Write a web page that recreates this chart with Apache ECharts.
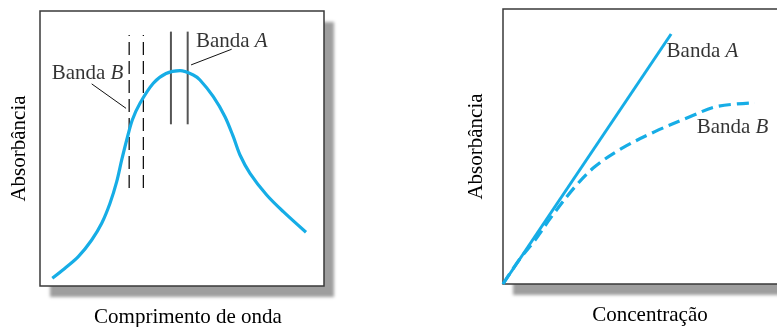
<!DOCTYPE html>
<html>
<head>
<meta charset="utf-8">
<script src="https://cdn.jsdelivr.net/npm/echarts@6/dist/echarts.min.js"></script>
<style>
html,body{margin:0;padding:0;background:#fff;}
#chart{width:777px;height:327px;}
</style>
</head>
<body>
<div id="chart"></div>
<script>
// ---- Data (arbitrary units, 0..100) ----
const axisNames = ['Comprimento de onda', 'Concentração', 'Absorbância'];
const bandNames = ['A', 'B'];

// Absorption spectrum (left panel)
const spectrumWavelength = [4.33, 8.80, 13.49, 18.20, 21.73, 24.65, 27.01, 28.77, 30.53, 32.50, 35.21, 39.89, 44.37, 49.30, 53.98, 56.34, 61.02, 65.14, 68.06, 70.42, 73.94, 79.82, 85.67, 93.66];
const spectrumAbsorbance = [2.80, 6.44, 10.65, 16.73, 22.80, 30.07, 37.93, 45.82, 53.09, 60.36, 66.44, 73.71, 77.27, 78.29, 76.73, 74.91, 68.84, 61.56, 54.29, 47.64, 40.98, 33.09, 27.02, 19.53];

// Wavelength bands (edges) and their marker extents
const bandAEdges = [46.1, 52.0];
const bandAExtent = [58.8, 92.5];
const bandBEdges = [31.4, 36.4];
const bandBExtent = [35.6, 91.3];

// Calibration curves (right panel)
const bandAConc = [0, 59.2];
const bandAAbs = [0, 90.9];
const bandBConc = [0, 6.0, 11.3, 17.1, 25.4, 32.4, 41.8, 53.5, 65.8, 75.2, 88.7];
const bandBAbs = [0, 9.2, 16.0, 24.5, 35.4, 42.7, 49.3, 55.4, 60.8, 64.5, 65.9];

// ---- Chart ----
const FONT = 'Liberation Serif';
const BLUE = '#16ade6';
const TEXT = '#000';
const zip = (a, b) => a.map((v, i) => [v, b[i]]);

const panels = [
  {left: 40, top: 11, width: 284, height: 275},
  {left: 503, top: 9, width: 284, height: 275}
];
const grids = [];
panels.forEach(p => {
  grids.push(Object.assign({
    show: true, backgroundColor: '#fff', borderWidth: 0, outerBoundsMode: 'none', containLabel: false,
    shadowColor: 'rgba(0,0,0,0.38)', shadowBlur: 3, shadowOffsetX: 10, shadowOffsetY: 11
  }, p));
});
panels.forEach(p => {
  grids.push(Object.assign({
    show: true, backgroundColor: 'transparent', borderColor: '#3a3a3a', borderWidth: 1.5,
    outerBoundsMode: 'none', containLabel: false
  }, p));
});

const hiddenAxis = (gi, name, extra) => Object.assign({
  gridIndex: gi, type: 'value', min: 0, max: 100,
  axisLine: {show: false}, axisTick: {show: false}, axisLabel: {show: false}, splitLine: {show: false},
  name: name, nameLocation: 'middle',
  nameTextStyle: {fontFamily: FONT, fontSize: 21, color: TEXT}
}, extra || {});

const labelRich = {
  n: {fontFamily: FONT, fontSize: 21, color: TEXT},
  i: {fontFamily: FONT, fontSize: 21, color: TEXT, fontStyle: 'italic'}
};
const bandLabel = (ai, x, y, name) => ({
  type: 'scatter', xAxisIndex: ai, yAxisIndex: ai, symbolSize: 0, silent: true,
  data: [[x, y]],
  label: {show: true, position: 'right', distance: 0, color: TEXT, formatter: '{n|Banda }{i|' + name + '}', rich: labelRich}
});
const seg = (ai, pts, style) => ({
  type: 'line', xAxisIndex: ai, yAxisIndex: ai, data: pts, symbol: 'none', silent: true,
  lineStyle: style, z: 3
});

const L = 2, R = 3;
const series = [
  {type: 'line', xAxisIndex: L, yAxisIndex: L, data: zip(spectrumWavelength, spectrumAbsorbance),
   smooth: 0.3, symbol: 'none', lineStyle: {color: BLUE, width: 3.2}, z: 4},
  ...bandBEdges.map(x => seg(L, [[x, bandBExtent[0]], [x, bandBExtent[1]]], {color: '#111', width: 1.3, type: [13, 6]})),
  ...bandAEdges.map(x => seg(L, [[x, bandAExtent[0]], [x, bandAExtent[1]]], {color: '#555', width: 2})),
  seg(L, [[18.2, 73.5], [30.3, 64.6]], {color: '#111', width: 1}),
  seg(L, [[67.5, 86.1], [53.2, 80.4]], {color: '#111', width: 1}),
  bandLabel(L, 54.9, 88.8, bandNames[0]),
  bandLabel(L, 4.1, 77.3, bandNames[1]),
  {type: 'line', xAxisIndex: R, yAxisIndex: R, data: zip(bandAConc, bandAAbs), symbol: 'none',
   lineStyle: {color: BLUE, width: 3}, z: 4},
  {type: 'line', xAxisIndex: R, yAxisIndex: R, data: zip(bandBConc, bandBAbs), smooth: 0.35, symbol: 'none',
   lineStyle: {color: BLUE, width: 3.2, type: [12, 6]}, z: 4},
  bandLabel(R, 57.6, 84.7, bandNames[0]),
  bandLabel(R, 68.2, 56.9, bandNames[1])
];

const chart = echarts.init(document.getElementById('chart'), null, {renderer: 'canvas'});
chart.setOption({
  animation: false,
  backgroundColor: '#fff',
  grid: grids,
  xAxis: [
    hiddenAxis(0, ''), hiddenAxis(1, ''),
    hiddenAxis(2, axisNames[0], {nameGap: 21, nameTextStyle: {fontFamily: FONT, fontSize: 21, color: TEXT, padding: [0, 0, 0, 12]}}),
    hiddenAxis(3, axisNames[1], {nameGap: 21, nameTextStyle: {fontFamily: FONT, fontSize: 21, color: TEXT, padding: [0, 0, 0, 10]}})
  ],
  yAxis: [
    hiddenAxis(0, ''), hiddenAxis(1, ''),
    hiddenAxis(2, axisNames[2], {nameGap: 10}),
    hiddenAxis(3, axisNames[2], {nameGap: 16})
  ],
  series: series
});
</script>
</body>
</html>
